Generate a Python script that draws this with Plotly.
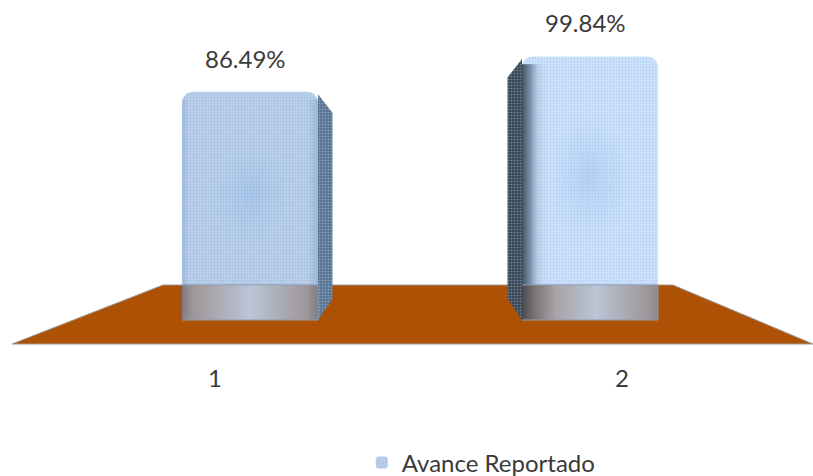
import plotly.graph_objects as go

categories = [1, 2]
values = [86.49, 99.84]
value_labels = ["86.49%", "99.84%"]
tick_labels = ["1", "2"]
series_name = "Avance Reportado"

W, H = 813, 476
PX_X = 340.0          # px per bar-axis unit
PX_Y = 2.64           # px per value unit
BASE_PX = 320.0
X1_PX = 250.0
BAR_W = 0.4
Y_TOP = BASE_PX / PX_Y
Y_BOT = -(H - BASE_PX) / PX_Y
x_range = [1 - X1_PX / PX_X, 1 + (W - X1_PX) / PX_X]
DX = 14.5 / PX_X
DY = 21 / PX_Y
BAND = 13.3
face_colors = ["#BCD2EC", "#CEE3FC"]
dot_colors = ["#A3BEDF", "#B4D0F3"]
side_colors = ["#5A7693", "#3C4A58"]
side_dots = ["#8AA2BC", "#76899D"]
side_dirs = [1, -1]

fig = go.Figure()

# bars
for i, (c, v, fc, dc) in enumerate(zip(categories, values, face_colors, dot_colors)):
    fig.add_trace(go.Bar(
        x=[c], y=[v], width=BAR_W, name=series_name, showlegend=(i == 0), opacity=1,
        marker=dict(color=fc, opacity=1, cornerradius=11, line=dict(width=0),
                    pattern=dict(shape=".", size=3, solidity=0.3, bgcolor=fc,
                                 fgcolor=dc, fgopacity=1, fillmode="overlay")),
        hoverinfo="skip",
    ))

for c, v, sc, sd, d in zip(categories, values, side_colors, side_dots, side_dirs):
    edge = c + d * BAR_W / 2
    # side face
    fig.add_trace(go.Scatter(
        x=[edge, edge + d * DX, edge + d * DX, edge],
        y=[v - 1, v - DY, DY, 0], mode="lines", fill="toself",
        line=dict(width=0), fillcolor=sc, showlegend=False, hoverinfo="skip",
        fillpattern=dict(shape=".", size=3, solidity=0.25, bgcolor=sc,
                         fgcolor=sd, fillmode="replace"),
    ))
    # soft central darkening of the front face
    xl, xr = c - BAR_W / 2, c + BAR_W / 2
    fig.add_trace(go.Scatter(
        x=[xl, xr, xr, xl], y=[BAND, BAND, v - 5, v - 5], mode="lines", fill="toself",
        line=dict(width=0), showlegend=False, hoverinfo="skip",
        fillgradient=dict(type="radial",
                          colorscale=[[0, "rgba(130,175,230,0.30)"], [0.6, "rgba(150,190,235,0.0)"],
                                      [1, "rgba(150,190,235,0.0)"]]),
    ))
    # shaded edge of the front face next to the side
    if d < 0:
        shade = [[0, "rgba(50,65,80,0.9)"], [0.06, "rgba(70,90,110,0.6)"], [0.12, "rgba(120,145,175,0.2)"],
                 [0.2, "rgba(200,220,250,0)"], [1, "rgba(200,220,250,0)"]]
    else:
        shade = [[0, "rgba(120,150,190,0.35)"], [0.05, "rgba(120,150,190,0)"],
                 [0.92, "rgba(120,150,190,0)"], [1, "rgba(120,150,190,0.4)"]]
    fig.add_trace(go.Scatter(
        x=[xl, xr, xr, xl], y=[BAND, BAND, v - 3, v - 3], mode="lines", fill="toself",
        line=dict(width=0), showlegend=False, hoverinfo="skip",
        fillgradient=dict(type="horizontal", colorscale=shade),
    ))
    # lower band where the bar sits in the floor
    band_scale = ([[0, "#7D7C84"], [0.08, "#9F9698"], [0.5, "#BAC6D6"], [0.92, "#9F9698"], [1, "#7D7C84"]]
                  if d > 0 else
                  [[0, "#4A4A52"], [0.1, "#7E7676"], [0.25, "#A8A4A8"], [0.55, "#BAC6D6"], [0.92, "#9F9698"], [1, "#8A8A92"]])
    fig.add_trace(go.Scatter(
        x=[xl, xr, xr, xl], y=[0, 0, BAND, BAND], mode="lines", fill="toself",
        line=dict(width=1, color="#8E9BB0"), showlegend=False, hoverinfo="skip",
        fillgradient=dict(type="horizontal", colorscale=band_scale),
    ))

# invisible trace carrying the perspective category axis
fig.add_trace(go.Scatter(x=categories, y=[0, 0], xaxis="x2", mode="markers",
                         marker=dict(opacity=0), showlegend=False, hoverinfo="skip"))

for c, v, t in zip(categories, values, value_labels):
    fig.add_annotation(x=c - 0.012, y=v, text=t, showarrow=False, yanchor="bottom", yshift=17,
                       font=dict(size=24, color="#3A3A3A", family="Lato"))

fig.update_layout(
    width=W, height=H, autosize=False,
    margin=dict(l=0, r=0, t=0, b=0, autoexpand=False),
    paper_bgcolor="white", plot_bgcolor="white",
    barmode="overlay",
    xaxis=dict(range=x_range, visible=False, fixedrange=True),
    xaxis2=dict(range=[1 - 215 / 407, 1 + (W - 215) / 407], overlaying="x", anchor="free",
                position=1 - 362 / H, tickmode="array", tickvals=categories, ticktext=tick_labels,
                showgrid=False, zeroline=False, showline=False, ticks="", side="bottom",
                tickfont=dict(size=24, color="#3A3A3A", family="Lato"), fixedrange=True),
    yaxis=dict(range=[Y_BOT, Y_TOP], visible=False, fixedrange=True),
    legend=dict(x=0.445, y=1 - 463 / H, xanchor="left", yanchor="middle", orientation="h",
                font=dict(size=24, color="#3A3A3A", family="Lato"),
                bgcolor="rgba(0,0,0,0)", itemwidth=30),
    shapes=[dict(type="path", xref="paper", yref="paper", layer="below",
                 path=f"M {12/W} {1-344/H} L {163/W} {1-285/H} L {673/W} {1-285/H} L {813/W} {1-344/H} Z",
                 fillcolor="#AD5204", line=dict(color="#9A9A9A", width=1))],
)

fig.write_html("out.html", config=dict(displayModeBar=False),
               post_script="document.body.style.margin='0';")
